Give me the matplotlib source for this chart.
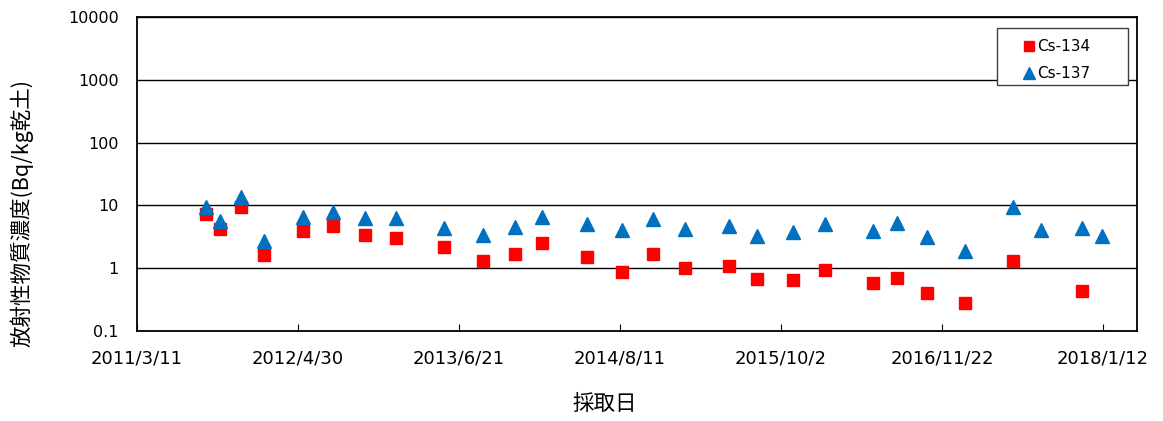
import pandas as pd
import matplotlib
matplotlib.use("Agg")
import matplotlib.pyplot as plt
from matplotlib.patches import Rectangle

plt.rcParams['font.family'] = ['Noto Sans CJK JP', 'DejaVu Sans']

# 採取日と濃度 (Bq/kg乾土)
dates = ["2011-09-06", "2011-10-12", "2011-12-04", "2012-02-03", "2012-05-14",
         "2012-07-30", "2012-10-22", "2013-01-09", "2013-05-14", "2013-08-21",
         "2013-11-12", "2014-01-23", "2014-05-17", "2014-08-18", "2014-11-04",
         "2015-01-28", "2015-05-21", "2015-08-01", "2015-11-03", "2016-01-25",
         "2016-05-26", "2016-07-28", "2016-10-14", "2017-01-19", "2017-05-25",
         "2017-08-06", "2017-11-19", "2018-01-10"]
cs134 = [7.3, 4.2, 9.6, 1.6, 3.9, 4.7, 3.4, 3.0, 2.2, 1.3,
         1.7, 2.5, 1.5, 0.88, 1.7, 1.0, 1.1, 0.67, 0.65, 0.94,
         0.59, 0.71, 0.40, 0.28, 1.3, None, 0.43, None]
cs137 = [9.4, 5.7, 13.7, 2.67, 6.6, 7.8, 6.3, 6.2, 4.4, 3.4,
         4.5, 6.5, 5.0, 4.0, 6.1, 4.2, 4.7, 3.2, 3.8, 5.1,
         3.9, 5.3, 3.1, 1.9, 9.4, 4.0, 4.4, 3.2]

tick_labels = ["2011/3/11", "2012/4/30", "2013/6/21", "2014/8/11",
               "2015/10/2", "2016/11/22", "2018/1/12"]

df = pd.DataFrame({"date": pd.to_datetime(dates), "cs134": cs134, "cs137": cs137})

fig = plt.figure(figsize=(11.63, 4.21), dpi=100)
ax = fig.add_axes([0.1178, 0.2138, 0.8598, 0.7458])

ax.plot(df["date"], df["cs134"], linestyle="none", marker="s", markersize=9,
        color="#FF0000", label="Cs-134")
ax.plot(df["date"], df["cs137"], linestyle="none", marker="^", markersize=9.5,
        color="#0070C0", label="Cs-137")

ax.set_yscale("log")
ax.set_ylim(0.1, 10000)
ax.set_yticks([0.1, 1, 10, 100, 1000, 10000])
ax.set_yticklabels(["0.1", "1", "10", "100", "1000", "10000"])
ax.yaxis.set_minor_locator(matplotlib.ticker.NullLocator())
ax.grid(True, axis="y", color="black", linewidth=1)

tick_dates = pd.to_datetime([t.replace("/", "-") for t in tick_labels])
ax.set_xticks(tick_dates)
ax.set_xticklabels(tick_labels, family="DejaVu Sans")
for t in ax.get_yticklabels():
    t.set_family("DejaVu Sans")
ax.set_xlim(pd.Timestamp("2011-03-11"), pd.Timestamp("2018-04-10"))

ax.tick_params(axis="x", direction="in", length=5, pad=13, labelsize=13)
ax.tick_params(axis="y", length=0, pad=13, labelsize=11.5)
for s in ax.spines.values():
    s.set_color("black")
    s.set_linewidth(1.3)

ax.set_xlabel("採取日", fontsize=15.5, va="center")
ax.xaxis.set_label_coords(0.468, -0.232)
ax.set_ylabel("放射性物質濃度(Bq/kg乾土)", fontsize=15.5, va="center")
ax.yaxis.set_label_coords(-0.115, 0.376)

# legend box (Excel-style, wide padding)
ax.add_patch(Rectangle((0.86, 0.7834), 0.131, 0.1815, transform=ax.transAxes,
                       facecolor="white", edgecolor="#404040", linewidth=1,
                       zorder=4))
leg = ax.legend(loc="upper left", bbox_to_anchor=(0.886, 0.93),
                prop={"family": "DejaVu Sans", "size": 11},
                handlelength=0.8, handletextpad=0.15, borderpad=0,
                borderaxespad=0, labelspacing=0.8, frameon=False,
                markerscale=0.85)
leg.set_zorder(5)

fig.savefig("out.png", dpi=100)
